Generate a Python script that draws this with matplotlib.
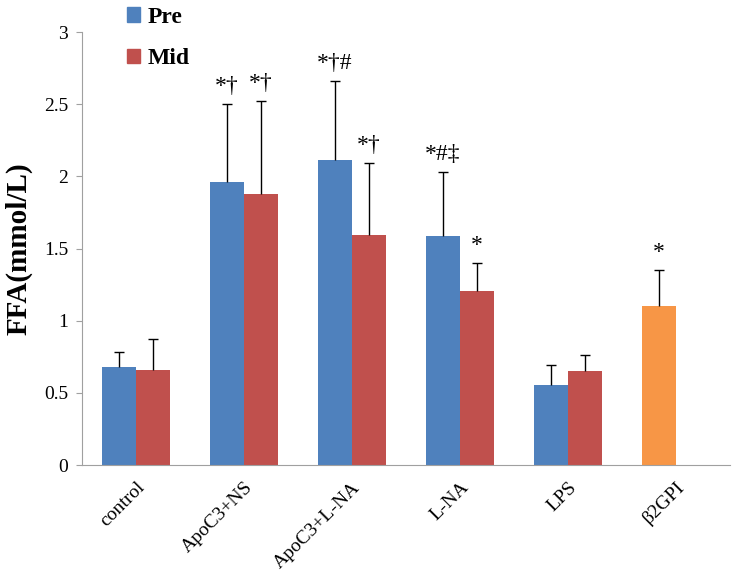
import matplotlib
matplotlib.use("Agg")
import matplotlib.pyplot as plt
import numpy as np
from matplotlib.patches import Patch

plt.rcParams["font.family"] = ["Liberation Serif", "DejaVu Serif"]

categories = ["control", "ApoC3+NS", "ApoC3+L-NA", "L-NA", "LPS", "\u03b22GPI"]
pre_values = [0.68, 1.96, 2.11, 1.585, 0.555, 1.105]
pre_err = [0.10, 0.54, 0.55, 0.445, 0.135, 0.245]
mid_values = [0.66, 1.875, 1.595, 1.205, 0.65, None]
mid_err = [0.215, 0.645, 0.495, 0.195, 0.11, None]
pre_marks = ["", "*\u2020", "*\u2020#", "*#\u2021", "", "*"]
mid_marks = ["", "*\u2020", "*\u2020", "*", "", ""]

blue = "#4f81bd"
red = "#c0504d"
orange = "#f79646"
grey = "#a0a0a0"

fig = plt.figure(figsize=(7.32, 5.72), dpi=100)
ax = fig.add_axes([0.112, 0.187, 0.885, 0.757])

x = np.arange(len(categories))
w = 0.315
pre_colors = [blue] * (len(categories) - 1) + [orange]


def upper_err(xs, vals, errs):
    _, caps, _ = ax.errorbar(xs, vals, yerr=[np.zeros(len(errs)), errs],
                             fmt="none", ecolor="black", elinewidth=1,
                             capsize=3.5, capthick=1, zorder=3)
    caps[0].set_visible(False)  # only the top cap like the original


ax.bar(x - w / 2, pre_values, w, color=pre_colors, zorder=2)
upper_err(x - w / 2, pre_values, pre_err)

mx = [xi + w / 2 for xi, v in zip(x, mid_values) if v is not None]
mv = [v for v in mid_values if v is not None]
me = [e for e in mid_err if e is not None]
ax.bar(mx, mv, w, color=red, zorder=2)
upper_err(mx, mv, me)

for xi, v, e, m in zip(x, pre_values, pre_err, pre_marks):
    if m:
        ax.text(xi - w / 2, v + e + 0.05, m, ha="center", va="bottom", fontsize=17)
for xi, v, e, m in zip(x, mid_values, mid_err, mid_marks):
    if m:
        ax.text(xi + w / 2, v + e + 0.05, m, ha="center", va="bottom", fontsize=17)

ax.set_xlim(-0.5, len(categories) - 0.5)
ax.set_ylim(0, 3)
ax.set_yticks([0, 0.5, 1, 1.5, 2, 2.5, 3])
ax.set_yticklabels(["0", "0.5", "1", "1.5", "2", "2.5", "3"], fontsize=14)
ax.set_xticks(x)
ax.set_xticklabels(categories, rotation=45, ha="right", rotation_mode="anchor", fontsize=14)
ax.tick_params(axis="x", length=0, pad=10)
ax.tick_params(axis="y", length=4, color=grey, pad=6)
for s in ["top", "right"]:
    ax.spines[s].set_visible(False)
ax.spines["left"].set_color(grey)
ax.spines["bottom"].set_color(grey)
ax.set_ylabel("FFA(mmol/L)", fontsize=21, fontweight="bold", labelpad=8)

handles = [Patch(color=blue, label="Pre"), Patch(color=red, label="Mid")]
fig.legend(handles=handles, loc="upper left", bbox_to_anchor=(0.145, 1.025),
           frameon=False, prop={"size": 17, "weight": "bold"},
           handlelength=0.55, handleheight=0.55, handletextpad=0.3, labelspacing=0.85)

fig.savefig("out.png", dpi=100)
